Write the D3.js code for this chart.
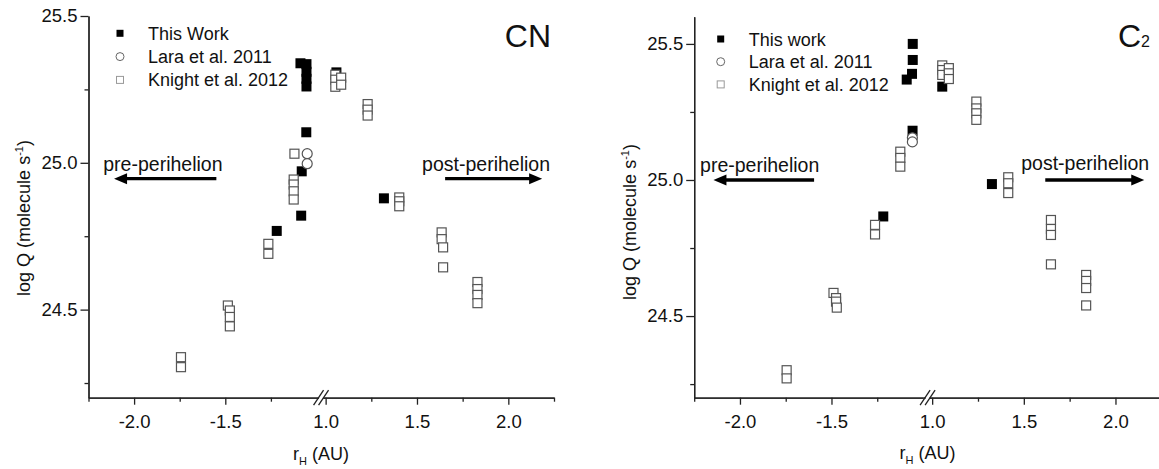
<!doctype html>
<html>
<head>
<meta charset="utf-8">
<title>CN and C2 production rates</title>
<script src="https://d3js.org/d3.v7.min.js"></script>
<style>
  body { margin: 0; background: #fff; }
  svg text { font-family: "Liberation Sans", Arial, sans-serif; fill: #111; }
</style>
</head>
<body>
<svg id="chart" width="1159" height="469"></svg>
<script>
// ---- data (rH in AU, negative = pre-perihelion; log Q in molecule/s) ----
const cnWorkR = [-1.088, -1.055, -1.055, -1.055, -1.055, -1.056, -1.081, -1.084, -1.218, 1.059, 1.319];
const cnWorkQ = [25.339, 25.336, 25.310, 25.286, 25.260, 25.104, 24.971, 24.820, 24.768, 25.308, 24.879];
const cnLaraR = [-1.051, -1.051];
const cnLaraQ = [25.031, 24.997];
const cnKnightR = [-1.743, -1.743, -1.486, -1.475, -1.475, -1.475, -1.264, -1.264, -1.121, -1.125, -1.125, -1.125, -1.125,
  1.053, 1.053, 1.053, 1.085, 1.085, 1.230, 1.230, 1.230, 1.403, 1.403, 1.403, 1.635, 1.635, 1.643, 1.643, 1.831, 1.831, 1.831, 1.831];
const cnKnightQ = [24.338, 24.304, 24.514, 24.497, 24.475, 24.443, 24.724, 24.690, 25.031, 24.943, 24.926, 24.903, 24.875,
  25.300, 25.283, 25.259, 25.290, 25.266, 25.200, 25.181, 25.161, 24.882, 24.869, 24.852, 24.763, 24.740, 24.712, 24.644, 24.594, 24.570, 24.550, 24.522];

const c2WorkR = [-1.056, -1.056, -1.060, -1.089, -1.057, -1.217, 1.055, 1.326];
const c2WorkQ = [25.500, 25.441, 25.390, 25.369, 25.181, 24.866, 25.343, 24.985];
const c2LaraR = [-1.058, -1.058];
const c2LaraQ = [25.155, 25.140];
const c2KnightR = [-1.745, -1.745, -1.489, -1.475, -1.475, -1.471, -1.262, -1.262, -1.124, -1.124, -1.124,
  1.055, 1.055, 1.055, 1.091, 1.091, 1.091, 1.241, 1.241, 1.241, 1.241, 1.415, 1.415, 1.415, 1.648, 1.648, 1.648, 1.648, 1.840, 1.840, 1.840, 1.840];
const c2KnightQ = [24.301, 24.271, 24.585, 24.566, 24.553, 24.531, 24.835, 24.800, 25.104, 25.081, 25.049,
  25.421, 25.404, 25.386, 25.411, 25.392, 25.371, 25.288, 25.263, 25.245, 25.221, 25.010, 24.988, 24.952, 24.853, 24.820, 24.798, 24.690, 24.651, 24.629, 24.603, 24.539];

const xMajorPre = [-2.0, -1.5];
const xMinorPre = [-2.25, -1.75, -1.25];
const xMajorPost = [1.0, 1.5, 2.0];
const xMinorPost = [1.25, 1.75, 2.25];
const yMajor = [24.5, 25.0, 25.5];
const yMinor = [24.25, 24.75, 25.25];

const FONT = '"Liberation Sans", Arial, sans-serif';
const svg = d3.select('#chart');
svg.append('rect').attr('width', 1159).attr('height', 469).attr('fill', '#fff');

const zip = (a, b) => a.map((v, i) => [v, b[i]]);
const fmt = d => d.toFixed(1);

function styleAxis(sel, size) {
  sel.attr('font-family', FONT).attr('font-size', size);
  sel.selectAll('path, line').attr('stroke', '#222').attr('stroke-width', 1.3);
  sel.selectAll('text').attr('fill', '#111');
}

function drawPanel(p) {
  const g = svg.append('g');
  const xL = d3.scaleLinear().domain([-2.25, -1.0]).range([p.x0, p.xBreak]);
  const xR = d3.scaleLinear().domain([0.95, 2.25]).range([p.xBreak, p.x1]);
  const x = v => v < 0 ? xL(v) : xR(v);
  const y = d3.scaleLinear().domain(p.yDomain).range([p.yBot, p.yTop]);

  // y axis
  g.append('g').attr('transform', `translate(${p.x0},0)`)
    .call(d3.axisLeft(y).tickValues(yMajor).tickFormat(fmt).tickSize(8).tickSizeOuter(0).tickPadding(3))
    .call(styleAxis, 18.5);
  g.append('g').attr('transform', `translate(${p.x0},0)`)
    .call(d3.axisLeft(y).tickValues(yMinor).tickFormat('').tickSize(4).tickSizeOuter(0))
    .call(styleAxis, 18.5);

  // x axis, two segments
  [[xL, xMajorPre, xMinorPre], [xR, xMajorPost, xMinorPost]].forEach(([sc, maj, min]) => {
    g.append('g').attr('transform', `translate(0,${p.yBot})`)
      .call(d3.axisBottom(sc).tickValues(maj).tickFormat(fmt).tickSize(7).tickSizeOuter(0).tickPadding(10))
      .call(styleAxis, 18.5);
    g.append('g').attr('transform', `translate(0,${p.yBot})`)
      .call(d3.axisBottom(sc).tickValues(min).tickFormat('').tickSize(4).tickSizeOuter(0))
      .call(styleAxis, 18.5);
  });

  // axis break
  const cx = xR(0.975), cy = p.yBot;
  g.append('rect').attr('x', cx - 2).attr('y', cy - 2).attr('width', 4).attr('height', 4).attr('fill', '#fff');
  [-2.5, 2.5].forEach(dx => {
    g.append('line')
      .attr('x1', cx + dx - 5).attr('y1', cy + 7.5)
      .attr('x2', cx + dx + 5).attr('y2', cy - 7.5)
      .attr('stroke', '#222').attr('stroke-width', 1.3);
  });

  // data
  const s = 10;
  g.append('g').selectAll('rect').data(zip(p.workR, p.workQ)).join('rect')
    .attr('x', d => x(d[0]) - s / 2).attr('y', d => y(d[1]) - s / 2)
    .attr('width', s).attr('height', s).attr('fill', '#000');
  g.append('g').selectAll('circle').data(zip(p.laraR, p.laraQ)).join('circle')
    .attr('cx', d => x(d[0])).attr('cy', d => y(d[1])).attr('r', 5)
    .attr('fill', '#fff').attr('stroke', '#555').attr('stroke-width', 1.2);
  g.append('g').selectAll('rect').data(zip(p.knightR, p.knightQ)).join('rect')
    .attr('x', d => x(d[0]) - s / 2 + 0.5).attr('y', d => y(d[1]) - s / 2 + 0.5)
    .attr('width', s - 1).attr('height', s - 1)
    .attr('fill', '#fff').attr('stroke', '#555').attr('stroke-width', 1.2);

  // arrows
  p.arrows.forEach(a => {
    const x1 = x(a.from), x2 = x(a.to), ay = y(a.q);
    const dir = Math.sign(x2 - x1), head = 13;
    g.append('line').attr('x1', x1).attr('y1', ay).attr('x2', x2 - dir * head + dir).attr('y2', ay)
      .attr('stroke', '#000').attr('stroke-width', 3.3);
    g.append('path')
      .attr('d', `M${x2},${ay}L${x2 - dir * head},${ay - 5.5}L${x2 - dir * head},${ay + 5.5}Z`)
      .attr('fill', '#000');
    g.append('text').attr('x', x(a.labelR)).attr('y', y(a.labelQ))
      .attr('font-size', 19.5).text(a.label);
  });

  // legend
  const leg = g.append('g');
  const rows = [p.legendNames[0], p.legendNames[1], p.legendNames[2]];
  rows.forEach((name, i) => {
    const ly = p.legY + i * p.legDy;
    if (i === 0) leg.append('rect').attr('x', p.legX - 3.5).attr('y', ly - 3.5).attr('width', 7).attr('height', 7).attr('fill', '#000');
    if (i === 1) leg.append('circle').attr('cx', p.legX).attr('cy', ly).attr('r', 4).attr('fill', '#fff').attr('stroke', '#666').attr('stroke-width', 1);
    if (i === 2) leg.append('rect').attr('x', p.legX - 3.5).attr('y', ly - 3.5).attr('width', 7).attr('height', 7).attr('fill', '#fff').attr('stroke', '#999').attr('stroke-width', 1);
    leg.append('text').attr('x', p.legX + 28).attr('y', ly + 6.5).attr('font-size', 18).text(name);
  });

  // panel label
  const lab = g.append('text').attr('x', p.labelX).attr('y', p.labelY).attr('text-anchor', 'end');
  lab.append('tspan').attr('font-size', 32).text(p.species[0]);
  if (p.species[1]) lab.append('tspan').attr('font-size', 16).text(p.species[1]);

  // axis titles
  const yt = g.append('text').attr('transform', `translate(${p.yTitleX},${p.yTitleY}) rotate(-90)`)
    .attr('text-anchor', 'middle').attr('font-size', 18);
  yt.append('tspan').text('log Q (molecule s');
  yt.append('tspan').attr('font-size', 11).attr('dy', -7).text('-1');
  yt.append('tspan').attr('dy', 7).text(')');

  const xt = g.append('text').attr('x', xR(0.975)).attr('y', p.xTitleY)
    .attr('text-anchor', 'middle').attr('font-size', 18);
  xt.append('tspan').text('r');
  xt.append('tspan').attr('font-size', 11).attr('dy', 5).text('H');
  xt.append('tspan').attr('dy', -5).text(' (AU)');
}

drawPanel({
  x0: 88.5, xBreak: 316.5, x1: 554, yTop: 16, yBot: 397.7, yDomain: [24.2, 25.5],
  workR: cnWorkR, workQ: cnWorkQ, laraR: cnLaraR, laraQ: cnLaraQ, knightR: cnKnightR, knightQ: cnKnightQ,
  arrows: [
    {from: -1.549, to: -2.110, q: 24.946, label: 'pre-perihelion', labelR: -2.169, labelQ: 24.973},
    {from: 1.654, to: 2.185, q: 24.946, label: 'post-perihelion', labelR: 1.528, labelQ: 24.973}
  ],
  legendNames: ['This Work', 'Lara et al. 2011', 'Knight et al. 2012'],
  legX: 120, legY: 33.3, legDy: 23.3,
  species: ['CN'], labelX: 551, labelY: 47,
  yTitleX: 30, yTitleY: 218, xTitleY: 460
});

drawPanel({
  x0: 694.2, xBreak: 923, x1: 1161.3, yTop: 16.7, yBot: 397.7, yDomain: [24.2, 25.6],
  workR: c2WorkR, workQ: c2WorkQ, laraR: c2LaraR, laraQ: c2LaraQ, knightR: c2KnightR, knightQ: c2KnightQ,
  arrows: [
    {from: -1.595, to: -2.145, q: 25.0, label: 'pre-perihelion', labelR: -2.218, labelQ: 25.028},
    {from: 1.617, to: 2.157, q: 25.0, label: 'post-perihelion', labelR: 1.486, labelQ: 25.035}
  ],
  legendNames: ['This work', 'Lara et al. 2011', 'Knight et al. 2012'],
  legX: 720.7, legY: 39, legDy: 22.7,
  species: ['C', '2'], labelX: 1150, labelY: 46.7,
  yTitleX: 636, yTitleY: 222, xTitleY: 458.5
});
</script>
</body>
</html>
